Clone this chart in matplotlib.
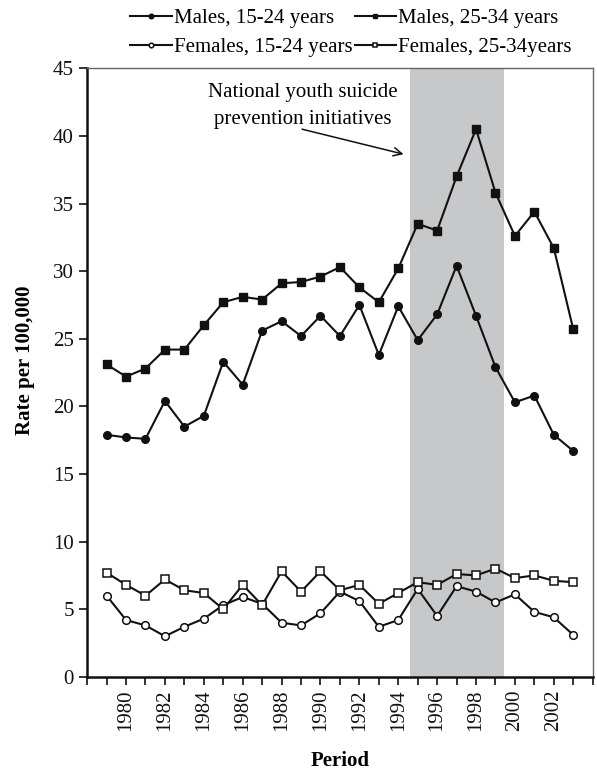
import matplotlib
matplotlib.use('Agg')
import matplotlib.pyplot as plt

# Datos (tasa por 100.000)
years = list(range(1979, 2004))
males_15_24 = [17.9, 17.7, 17.6, 20.4, 18.5, 19.3, 23.3, 21.6, 25.6, 26.3, 25.2, 26.7, 25.2,
               27.5, 23.8, 27.4, 24.9, 26.8, 30.4, 26.7, 22.9, 20.3, 20.8, 17.9, 16.7]
males_25_34 = [23.1, 22.2, 22.8, 24.2, 24.2, 26.0, 27.7, 28.1, 27.9, 29.1, 29.2, 29.6, 30.3,
               28.8, 27.7, 30.2, 33.5, 33.0, 37.0, 40.5, 35.8, 32.6, 34.4, 31.7, 25.7]
females_15_24 = [6.0, 4.2, 3.8, 3.0, 3.7, 4.3, 5.3, 5.9, 5.4, 4.0, 3.8, 4.7, 6.3,
                 5.6, 3.7, 4.2, 6.5, 4.5, 6.7, 6.3, 5.5, 6.1, 4.8, 4.4, 3.1]
females_25_34 = [7.7, 6.8, 6.0, 7.2, 6.4, 6.2, 5.0, 6.8, 5.3, 7.8, 6.3, 7.8, 6.4,
                 6.8, 5.4, 6.2, 7.0, 6.8, 7.6, 7.5, 8.0, 7.3, 7.5, 7.1, 7.0]
labels = ['Males, 15-24 years', 'Males, 25-34 years',
          'Females, 15-24 years', 'Females, 25-34years']
shade_start, shade_end = 1994.6, 1999.45

plt.rcParams['font.family'] = ['Liberation Serif', 'DejaVu Serif']
plt.rcParams['font.size'] = 15

fig = plt.figure(figsize=(5.97, 7.72), dpi=100)
ax = fig.add_axes([0.146, 0.1233, 0.9928 - 0.146, 0.9115 - 0.1233])

ax.axvspan(shade_start, shade_end, color='#c7c8ca', lw=0, zorder=0)

lw = 1.5
l1, = ax.plot(years, males_15_24, color='#111111', lw=lw, marker='o', ms=5.5, label=labels[0])
l2, = ax.plot(years, males_25_34, color='#111111', lw=lw, marker='s', ms=6, label=labels[1])
l3, = ax.plot(years, females_15_24, color='#111111', lw=lw, marker='o', ms=5.5,
              mfc='white', mew=1.1, label=labels[2])
l4, = ax.plot(years, females_25_34, color='#111111', lw=lw, marker='s', ms=5.5,
              mfc='white', mew=1.1, label=labels[3])

ax.set_xlim(1978, 2004)
ax.set_ylim(0, 45)
ax.set_yticks(range(0, 46, 5))
ax.set_xticks(range(1978, 2005))
ax.set_xticklabels([str(y) if (y % 2 == 0 and 1980 <= y <= 2002) else '' for y in range(1978, 2005)],
                   rotation=90)
ax.tick_params(axis='both', direction='out', length=6, width=1.2, colors='#111111', labelsize=15)
ax.tick_params(axis='x', pad=3)

for s in ['left', 'bottom']:
    ax.spines[s].set_linewidth(1.8)
    ax.spines[s].set_color('#111111')
for s in ['top', 'right']:
    ax.spines[s].set_linewidth(1.0)
    ax.spines[s].set_color('#666666')

ax.set_ylabel('Rate per 100,000', fontweight='bold', fontsize=15)
ax.yaxis.set_label_coords(-0.104, 0.52)
ax.set_xlabel('Period', fontweight='bold', fontsize=15)
ax.xaxis.set_label_coords(0.5, -0.122)

# texto y flecha de la anotacion
ax.text(1989.1, 42.2, 'National youth suicide\nprevention initiatives',
        ha='center', va='center', fontsize=15, linespacing=1.55)
ax.annotate('', xy=(1994.27, 38.65), xytext=(1989.05, 40.5),
            arrowprops=dict(arrowstyle='->', color='#111111', lw=1.1,
                            shrinkA=0, shrinkB=0))

fig.legend([l1, l3, l2, l4], [labels[0], labels[2], labels[1], labels[3]],
           ncol=2, loc='upper center', bbox_to_anchor=(0.588, 1.006),
           frameon=False, fontsize=15, handlelength=2.0, handletextpad=0.1,
           columnspacing=0.1, labelspacing=0.45, markerscale=0.6, borderpad=0.15)

fig.savefig('out.png', dpi=100)
